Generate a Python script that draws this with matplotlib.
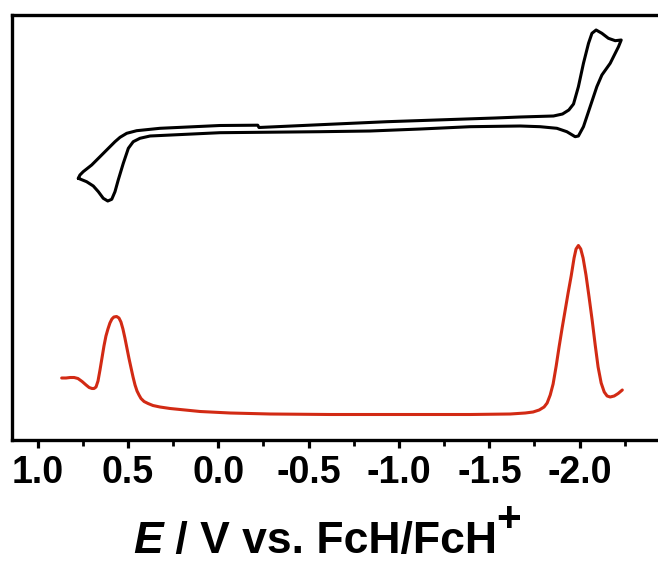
import matplotlib
matplotlib.use("Agg")
import matplotlib.pyplot as plt
from matplotlib.ticker import MultipleLocator

# ---- data (potential E / V vs FcH/FcH+, current in arbitrary units) ----
# cyclic voltammogram (black): forward branch then return branch
cv_E = [0.775, 0.766, 0.748, 0.701, 0.655, 0.618, 0.572, 0.544, 0.507, 0.452,
        0.323, -0.009, -0.218, -0.225, -0.613, -0.934, -1.532, -1.671, -1.855,
        -1.905, -1.940, -1.966, -1.993, -2.021, -2.049, -2.068, -2.091, -2.123,
        -2.159, -2.197, -2.230,
        -2.215, -2.169, -2.123, -2.095, -2.058, -2.021, -1.993, -1.975, -1.929,
        -1.874, -1.781, -1.671, -1.394, -1.119, -0.840, -0.563, -0.009, 0.378,
        0.434, 0.471, 0.498, 0.526, 0.554, 0.572, 0.590, 0.612, 0.637, 0.664,
        0.692, 0.729, 0.775]
cv_I = [261.7, 265, 268.3, 275, 283.3, 290, 298.3, 302.7, 306.7, 309.3,
        311.7, 314.5, 314.8, 312.5, 315.7, 318.3, 322, 323, 324,
        326, 330, 336, 353.3, 376.7, 396.7, 406.7, 410, 406.7,
        401.7, 399.3, 400,
        393.3, 376.7, 365, 353.3, 333.3, 313.3, 304, 303.3, 308.3,
        311.7, 313.3, 314, 313.3, 311, 309, 308.3, 307.3, 304,
        301.7, 298.3, 291.7, 276.7, 260, 248.3, 240.7, 239, 241.7, 248.3,
        254, 258.3, 261.7]

# differential pulse voltammogram (red)
dpv_E = [0.867, 0.843, 0.820, 0.798, 0.777, 0.754, 0.732, 0.715, 0.699, 0.688,
         0.677, 0.666, 0.655, 0.644, 0.633, 0.622, 0.611, 0.600, 0.589, 0.578,
         0.563, 0.550, 0.539, 0.528, 0.517, 0.506, 0.495, 0.483, 0.472, 0.461,
         0.450, 0.439, 0.428, 0.411, 0.389, 0.362, 0.323, 0.267, 0.184, 0.101,
         -0.065, -0.287, -0.619, -1.006, -1.394, -1.616, -1.699, -1.742, -1.776,
         -1.803, -1.820, -1.837, -1.853, -1.870, -1.886, -1.903, -1.920, -1.936,
         -1.953, -1.969, -1.980, -1.993, -2.006, -2.019, -2.035, -2.052, -2.069,
         -2.086, -2.102, -2.119, -2.136, -2.152, -2.169, -2.191, -2.213, -2.236]
dpv_I = [62, 62, 62.5, 62.5, 61.5, 58.5, 55, 52.5, 51.5, 51.5,
         53, 59, 70, 82, 94, 104, 111, 117, 121, 123,
         123.5, 122, 118, 111, 102, 92, 82, 72, 63, 55,
         49, 45, 41.5, 38.5, 36.5, 34.5, 33, 31.5, 30, 28.5,
         27, 26, 25.5, 25.5, 25.5, 26, 27, 28, 30,
         33, 37, 45, 56, 74, 93, 112, 130, 147,
         164, 182, 191, 194.5, 191, 182, 165, 143, 120,
         95, 73, 57, 48, 44, 43, 44, 46.5, 50]

xticks = [1.0, 0.5, 0.0, -0.5, -1.0, -1.5, -2.0]
xtick_labels = ["1.0", "0.5", "0.0", "-0.5", "-1.0", "-1.5", "-2.0"]

W, H = 658, 566
fig = plt.figure(figsize=(W / 100, H / 100), dpi=100)
ax = fig.add_axes([12 / W, 1 - 440 / H, 658 / W, 425 / H])

ax.plot(cv_E, cv_I, color="black", lw=2.2, solid_joinstyle="round",
        solid_capstyle="round")
ax.plot(dpv_E, dpv_I, color="#d22a14", lw=2.2, solid_joinstyle="round",
        solid_capstyle="round")

ax.set_xlim(1.142, -2.50)
ax.set_ylim(0, 425)

for s in ax.spines.values():
    s.set_linewidth(2.4)
ax.spines["right"].set_visible(False)

ax.set_xticks(xticks)
ax.set_xticklabels(xtick_labels, fontfamily="Liberation Sans",
                   fontweight="bold", fontsize=27)
ax.xaxis.set_minor_locator(MultipleLocator(0.25))
ax.tick_params(axis="x", which="major", direction="out", length=6, width=2.3, pad=5)
ax.tick_params(axis="x", which="minor", direction="out", length=4, width=2.0)
ax.set_yticks([])

# x label made of pieces: italic E, rest bold, superscript +
fs = 32
y0 = 1 - 553 / H
x0 = 133 / W
t1 = fig.text(x0, y0, "E", fontfamily="Liberation Sans", fontweight="bold",
              fontstyle="italic", fontsize=fs, va="baseline", ha="left")
fig.canvas.draw()
r = fig.canvas.get_renderer()
bb = t1.get_window_extent(r)
t2 = fig.text(bb.x1 / W, y0, " / V vs. FcH/FcH", fontfamily="Liberation Sans",
              fontweight="bold", fontsize=fs, va="baseline", ha="left")
fig.canvas.draw()
bb2 = t2.get_window_extent(r)
fig.text(bb2.x1 / W, y0 + 22 / H, "+", fontfamily="Liberation Sans",
         fontweight="bold", fontsize=fs * 0.95, va="baseline", ha="left")

fig.savefig("out.png", dpi=100)
